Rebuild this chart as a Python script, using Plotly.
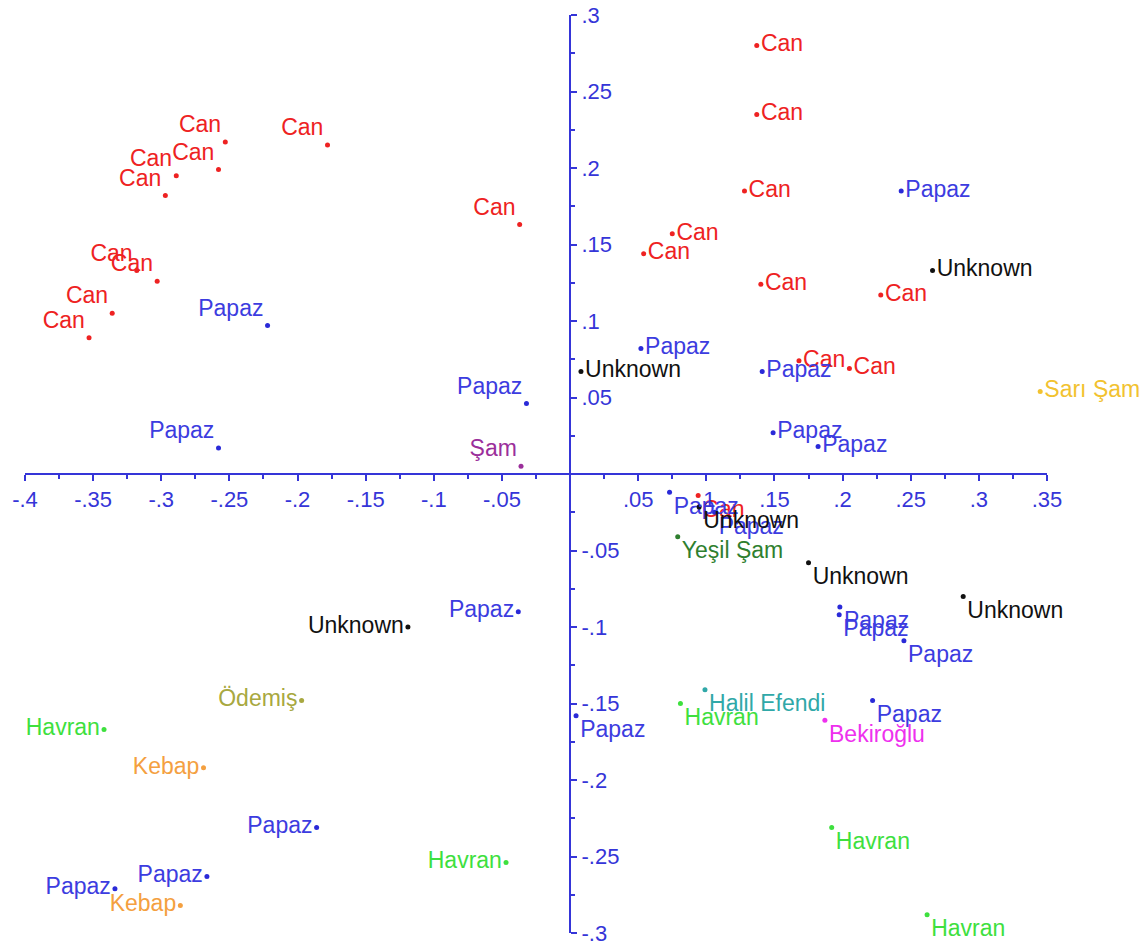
import plotly.graph_objects as go

# Cultivar of each sample and its coordinates on the two components
cultivar = [
    # Can
    "Can", "Can", "Can", "Can", "Can", "Can", "Can", "Can", "Can", "Can",
    "Can", "Can", "Can", "Can", "Can", "Can", "Can", "Can", "Can", "Can",
    # Papaz
    "Papaz", "Papaz", "Papaz", "Papaz", "Papaz", "Papaz", "Papaz", "Papaz",
    "Papaz", "Papaz", "Papaz", "Papaz", "Papaz", "Papaz", "Papaz", "Papaz",
    "Papaz", "Papaz", "Papaz",
    # Unknown
    "Unknown", "Unknown", "Unknown", "Unknown", "Unknown", "Unknown",
    # others
    "Şam", "Sarı Şam", "Yeşil Şam",
    "Havran", "Havran", "Havran", "Havran", "Havran",
    "Halil Efendi", "Bekiroğlu", "Ödemiş", "Kebap", "Kebap",
]

pc1 = [
    0.137, 0.137, 0.128, 0.075, 0.054, 0.140, 0.228, 0.168, 0.205, 0.094,
    -0.037, -0.178, -0.253, -0.258, -0.289, -0.297, -0.303, -0.318, -0.336, -0.353,
    0.243, 0.052, 0.141, 0.149, 0.182, -0.222, -0.032, -0.258,
    0.073, 0.106, -0.038, 0.198, 0.1975, 0.245, 0.222, 0.0044,
    -0.186, -0.2665, -0.334,
    0.266, 0.008, 0.0947, 0.175, 0.2885, -0.119,
    -0.036, 0.345, 0.079,
    0.081, 0.192, 0.262, -0.047, -0.342,
    0.099, 0.187, -0.197, -0.269, -0.286,
]

pc2 = [
    0.280, 0.235, 0.185, 0.157, 0.144, 0.124, 0.117, 0.074, 0.069, -0.014,
    0.163, 0.215, 0.217, 0.199, 0.195, 0.182, 0.126, 0.133, 0.105, 0.089,
    0.185, 0.082, 0.067, 0.027, 0.018, 0.097, 0.046, 0.017,
    -0.012, -0.025, -0.090, -0.087, -0.092, -0.109, -0.148, -0.158,
    -0.231, -0.263, -0.271,
    0.133, 0.067, -0.0216, -0.058, -0.080, -0.100,
    0.005, 0.054, -0.041,
    -0.150, -0.231, -0.288, -0.254, -0.167,
    -0.141, -0.161, -0.148, -0.192, -0.282,
]

x_ticks = [-0.4, -0.35, -0.3, -0.25, -0.2, -0.15, -0.1, -0.05,
           0.05, 0.1, 0.15, 0.2, 0.25, 0.3, 0.35]
x_tick_text = ["-.4", "-.35", "-.3", "-.25", "-.2", "-.15", "-.1", "-.05",
               ".05", ".1", ".15", ".2", ".25", ".3", ".35"]
y_ticks = [-0.3, -0.25, -0.2, -0.15, -0.1, -0.05,
           0.05, 0.1, 0.15, 0.2, 0.25, 0.3]
y_tick_text = ["-.3", "-.25", "-.2", "-.15", "-.1", "-.05",
               ".05", ".1", ".15", ".2", ".25", ".3"]

colors = {
    "Can": "#ee2222",
    "Papaz": "#2a2ad8",
    "Unknown": "#111111",
    "Şam": "#9b2f9b",
    "Sarı Şam": "#f2c230",
    "Yeşil Şam": "#2f7f2f",
    "Havran": "#3ee03e",
    "Halil Efendi": "#30a8a8",
    "Bekiroğlu": "#ee30ee",
    "Ödemiş": "#a8a840",
    "Kebap": "#f4a040",
}
text_colors = dict(colors)
text_colors["Papaz"] = "#3c3ce0"

AXIS_BLUE = "#3535d8"
FONT = "Liberation Sans, Arial, sans-serif"
W, H = 1144, 947
X_RANGE = [-0.4, 0.35]
Y_RANGE = [-0.3, 0.3]
x_dom = [25 / W, 1047 / W]
y_dom = [1 - 933 / H, 1 - 15 / H]

# paper positions where the axes cross at the origin
y0_paper = y_dom[0] + (0 - Y_RANGE[0]) / (Y_RANGE[1] - Y_RANGE[0]) * (y_dom[1] - y_dom[0])
x0_paper = x_dom[0] + (0 - X_RANGE[0]) / (X_RANGE[1] - X_RANGE[0]) * (x_dom[1] - x_dom[0])


def label_side(x, y):
    if x >= 0:
        return "middle right" if y >= 0 else "bottom right"
    return "top left" if y >= 0 else "middle left"


fig = go.Figure()
order = []
for c in cultivar:
    if c not in order:
        order.append(c)

for name in order:
    idx = [i for i, c in enumerate(cultivar) if c == name]
    xs = [pc1[i] for i in idx]
    ys = [pc2[i] for i in idx]
    fig.add_trace(go.Scatter(
        x=xs, y=ys, mode="markers+text", name=name,
        text=[name] * len(idx),
        textposition=[label_side(a, b) for a, b in zip(xs, ys)],
        textfont=dict(family=FONT, size=23, color=text_colors[name]),
        marker=dict(size=5, color=colors[name]),
        cliponaxis=False, showlegend=False,
    ))

tickfont = dict(family=FONT, size=22, color=AXIS_BLUE)
major_out = dict(ticks="outside", ticklen=6, tickwidth=2, tickcolor=AXIS_BLUE)
major_in = dict(ticks="inside", ticklen=6, tickwidth=2, tickcolor=AXIS_BLUE)
minor_out = dict(ticks="outside", ticklen=4, tickwidth=1.5, tickcolor=AXIS_BLUE,
                 tickmode="linear", tick0=0, dtick=0.025)
minor_in = dict(ticks="inside", ticklen=4, tickwidth=1.5, tickcolor=AXIS_BLUE,
                tickmode="linear", tick0=0, dtick=0.025)

fig.update_layout(
    width=W, height=H,
    margin=dict(l=0, r=0, t=0, b=0, autoexpand=False),
    paper_bgcolor="white", plot_bgcolor="white",
    showlegend=False,
    xaxis=dict(
        domain=x_dom, range=X_RANGE, anchor="free", position=y0_paper, side="bottom",
        automargin=False, showgrid=False, zeroline=False,
        showline=True, linecolor=AXIS_BLUE, linewidth=2,
        tickmode="array", tickvals=x_ticks, ticktext=x_tick_text, tickfont=tickfont,
        minor=minor_out, **major_out,
    ),
    xaxis2=dict(
        domain=x_dom, range=X_RANGE, anchor="free", position=y0_paper, overlaying="x",
        side="bottom", automargin=False, showgrid=False, zeroline=False, showline=False,
        tickmode="array", tickvals=x_ticks, showticklabels=False,
        minor=minor_in, **major_in,
    ),
    yaxis=dict(
        domain=y_dom, range=Y_RANGE, anchor="free", position=x0_paper, side="right",
        automargin=False, showgrid=False, zeroline=False,
        showline=True, linecolor=AXIS_BLUE, linewidth=2,
        tickmode="array", tickvals=y_ticks, ticktext=y_tick_text, tickfont=tickfont,
        minor=minor_out, **major_out,
    ),
    yaxis2=dict(
        domain=y_dom, range=Y_RANGE, anchor="free", position=x0_paper, overlaying="y",
        side="right", automargin=False, showgrid=False, zeroline=False, showline=False,
        tickmode="array", tickvals=y_ticks, showticklabels=False,
        minor=minor_in, **major_in,
    ),
)

fig.write_html("out.html")
